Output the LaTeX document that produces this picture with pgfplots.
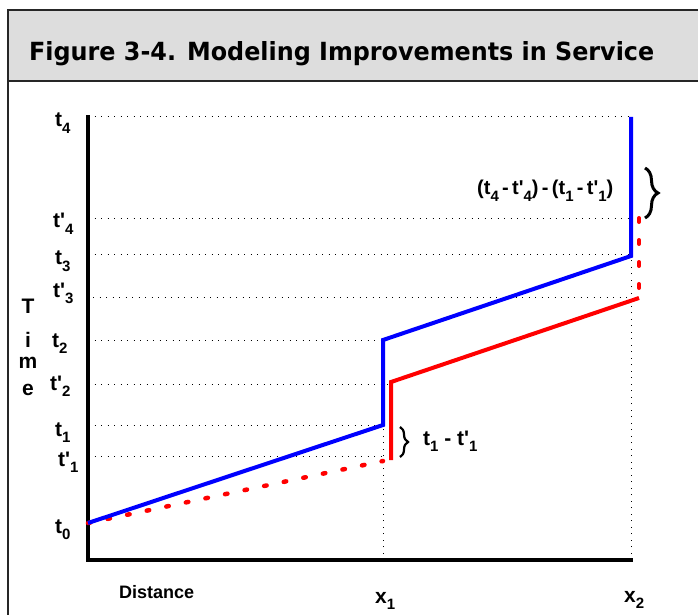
\documentclass[border=0pt]{standalone}
\usepackage{pgfplots}
\pgfplotsset{compat=1.18}
\usepackage{fontspec}
\setmainfont{Liberation Sans}
\newfontfamily\titlefont{DejaVu Sans}
\usetikzlibrary{decorations.pathreplacing}
\newcommand\sub[1]{\raisebox{-6.5pt}{\fontsize{15}{15}\selectfont #1}}
\newcommand\pr{\textquotesingle}
\tikzset{lab/.style={anchor=base west, inner sep=0pt, font=\fontsize{21}{21}\selectfont\bfseries}}
\definecolor{band}{RGB}{221,221,221}
\begin{document}
\begin{tikzpicture}[x=1pt,y=1pt]
\useasboundingbox (0,0) rectangle (698,614);
\fill[band] (8,533) rectangle (698,604);
\draw[line width=1.8pt, black!85] (698,604) -- (8,604) -- (8,-2);
\draw[line width=1.8pt, black!85] (8,533) -- (698,533);
\node[anchor=base west, inner sep=0pt] at (29,553) {\resizebox{625pt}{19pt}{\titlefont\bfseries Figure 3-4. Modeling Improvements in Service}};
\begin{axis}[at={(88pt,54pt)}, anchor=south west, scale only axis,
  width=543pt, height=443pt, xmin=0, xmax=543, ymin=0, ymax=443,
  axis lines=left, axis line style={-, line width=3.5pt, line cap=rect},
  xtick=\empty, ytick=\empty, clip=false]
% dotted guide lines
\pgfplotsset{guide/.style={black, line width=1pt, dash pattern=on 1pt off 5.5pt, forget plot}}
\addplot[guide] coordinates {(0,443)(543,443)};
\addplot[guide] coordinates {(0,342)(543,342)};
\addplot[guide] coordinates {(0,306)(543,306)};
\addplot[guide] coordinates {(5,263)(543,263)};
\addplot[guide] coordinates {(0,220)(295,220)};
\addplot[guide] coordinates {(0,176)(303,176)};
\addplot[guide] coordinates {(0,135)(295,135)};
\addplot[guide] coordinates {(0,104)(295,104)};
\addplot[guide] coordinates {(295,0)(295,135)};
\addplot[guide] coordinates {(543,0)(543,443)};
% red (improved)
\addplot[red, line width=4.5pt, line cap=round, dash pattern=on 2.5pt off 17.5pt] coordinates {(0,37)(295,99)};
\addplot[red, line width=4pt, line join=miter] coordinates {(303,100)(303,178)(551,262)};
\addplot[red, line width=4pt, line cap=round, dash pattern=on 4pt off 18pt] coordinates {(551,342)(551,262)};
% blue (original)
\addplot[blue, line width=4pt, line join=miter] coordinates {(0,37)(295,135)(295,220)(543,304)(543,443)};
\end{axis}
% y labels
\node[lab] at (55,487) {t\sub{4}};
\node[lab] at (53,386) {t\pr\sub{4}};
\node[lab] at (55,349) {t\sub{3}};
\node[lab] at (53,317) {t\pr\sub{3}};
\node[lab] at (52,267) {t\sub{2}};
\node[lab] at (50,224) {t\pr\sub{2}};
\node[lab] at (55,178) {t\sub{1}};
\node[lab] at (58,148) {t\pr\sub{1}};
\node[lab] at (55,81) {t\sub{0}};
% axis title letters
\tikzset{tl/.style={anchor=base, inner sep=0pt, font=\fontsize{21}{21}\selectfont\bfseries}}
\node[tl] at (28,301) {T};
\node[tl] at (28,267) {i};
\node[tl] at (28,246) {m};
\node[tl] at (28,219) {e};
% x labels
\node[lab, font=\fontsize{18}{18}\selectfont\bfseries] at (119,16) {Distance};
\node[lab] at (375,11) {x\sub{1}};
\node[lab] at (624,12) {x\sub{2}};
% braces and annotations
\draw[decorate, decoration={brace, amplitude=8pt}, line width=2.2pt] (400,187) -- (400,157);
\node[lab] at (423,169) {t\sub{1} - t\pr\sub{1}};
\draw[decorate, decoration={brace, amplitude=13pt}, line width=3pt] (645,446) -- (645,396);
\node[lab, font=\fontsize{20}{20}\selectfont\bfseries] at (477,419) {(t\sub{4}\,-\,t\pr\sub{4})\,-\,(t\sub{1}\,-\,t\pr\sub{1})};
\end{tikzpicture}
\end{document}
